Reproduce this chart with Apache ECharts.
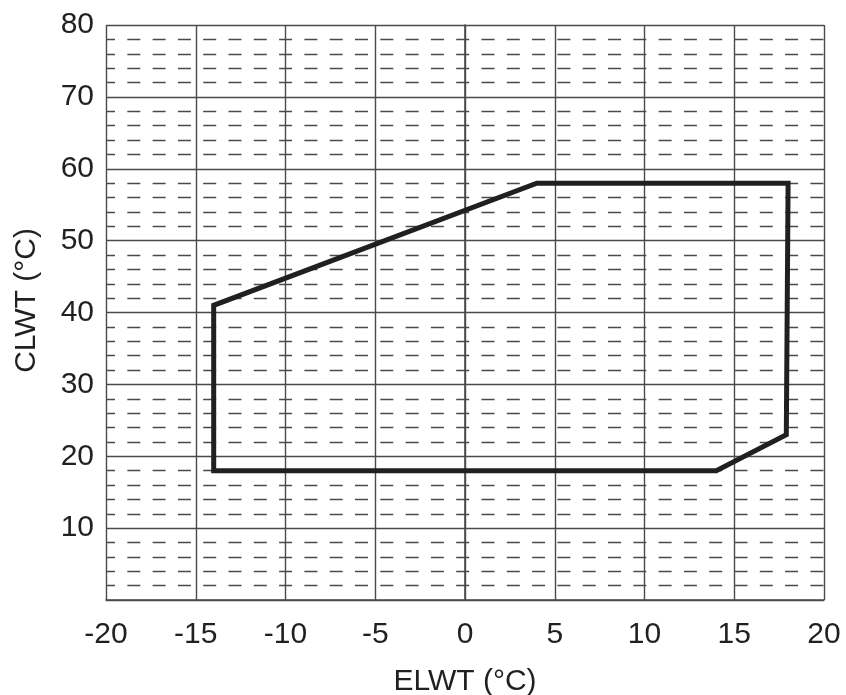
<!DOCTYPE html>
<html>
<head>
<meta charset="utf-8">
<title>Operating range</title>
<script src="https://cdn.jsdelivr.net/npm/echarts@6/dist/echarts.min.js"></script>
<style>
  html, body { margin: 0; padding: 0; background: #ffffff; }
  #chart { width: 846px; height: 695px; }
</style>
</head>
<body>
<div id="chart"></div>
<script>
// Operating envelope: evaporator leaving water temp vs condenser leaving water temp
const elwt = [-14, -14, 4, 18, 17.9, 14, -14];
const clwt = [18, 41, 58, 58, 23, 18, 18];

const xTicks = [-20, -15, -10, -5, 0, 5, 10, 15, 20];
const yTicks = [10, 20, 30, 40, 50, 60, 70, 80];

const envelope = elwt.map((x, i) => [x, clwt[i]]);

const textColor = '#231f20';
const gridColor = '#4a4a4a';
const fontFamily = '"Liberation Sans", Arial, sans-serif';

const chart = echarts.init(document.getElementById('chart'), null, { renderer: 'canvas' });

chart.setOption({
  backgroundColor: '#ffffff',
  animation: false,
  grid: { left: 106, right: 22, top: 25, bottom: 95, containLabel: false, outerBoundsMode: 'none' },
  xAxis: {
    type: 'value',
    min: xTicks[0],
    max: xTicks[xTicks.length - 1],
    interval: 5,
    name: 'ELWT (°C)',
    nameLocation: 'middle',
    nameGap: 67,
    nameTextStyle: { color: textColor, fontSize: 30, fontFamily: fontFamily },
    axisLine: { show: true, lineStyle: { color: gridColor, width: 1.6 } },
    axisTick: { show: false },
    axisLabel: {
      color: textColor, fontSize: 30, fontFamily: fontFamily, margin: 20,
      formatter: v => xTicks.includes(v) ? String(v) : ''
    },
    splitLine: { show: true, lineStyle: { color: gridColor, width: 1.4 } }
  },
  yAxis: {
    type: 'value',
    min: 0,
    max: yTicks[yTicks.length - 1],
    interval: 10,
    name: 'CLWT (°C)',
    nameLocation: 'middle',
    nameGap: 64,
    nameRotate: 90,
    nameTextStyle: { color: textColor, fontSize: 30, fontFamily: fontFamily, padding: [0, 0, 0, 24] },
    axisLine: { show: true, lineStyle: { color: gridColor, width: 1.6 } },
    axisTick: { show: false },
    minorTick: { show: false, splitNumber: 5 },
    axisLabel: {
      color: textColor, fontSize: 30, fontFamily: fontFamily, margin: 12,
      formatter: v => yTicks.includes(v) ? String(v) : ''
    },
    splitLine: { show: true, lineStyle: { color: gridColor, width: 1.4 } },
    minorSplitLine: {
      show: true,
      lineStyle: { color: gridColor, width: 1.4, type: [13, 12.3], dashOffset: 4 }
    }
  },
  series: [{
    type: 'line',
    data: envelope,
    symbol: 'none',
    silent: true,
    lineStyle: { color: textColor, width: 5, join: 'miter', cap: 'square' },
    z: 5
  }]
});
</script>
</body>
</html>
